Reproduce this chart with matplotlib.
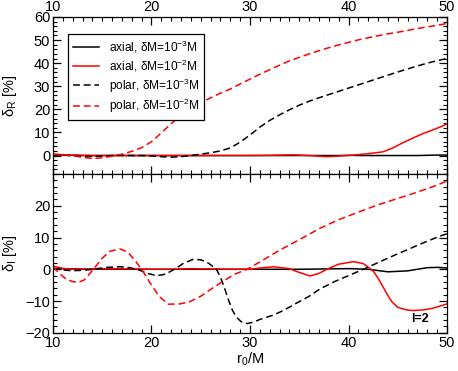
import numpy as np
import matplotlib
matplotlib.use('Agg')
import matplotlib.pyplot as plt
from matplotlib.ticker import MultipleLocator

plt.rcParams['font.family'] = ['Liberation Sans', 'DejaVu Sans']
plt.rcParams['mathtext.default'] = 'regular'

# ---- top panel: delta_R [%] ----
rt_x = list(range(10, 51))
rt_axial3 = [0.3, 0.2, 0.1, 0, 0, 0, 0, 0, 0, 0, 0, 0, 0, 0, 0, 0, 0, 0, 0, 0, 0,
             0, 0, 0, 0, 0, 0, 0, 0, 0, 0.1, 0, 0, 0, 0, 0, 0, 0, 0.1, 0.2, 0.2]
rt_polar2 = [0.6, 0.4, 0.0, -0.8, -1.3, -1.0, -0.3, 0.6, 1.8, 3.4, 6.0, 9.8, 13.8,
             17.5, 20.5, 22.8, 25.0, 27.0, 28.8, 31.0, 33.1, 35.2, 37.2, 39.1, 41.0,
             42.5, 44.0, 45.4, 46.7, 47.9, 49.0, 50.1, 51.0, 51.9, 52.7, 53.4, 54.2,
             55.0, 55.7, 56.4, 57.2]
rt_polar3 = [0.3, 0.2, -0.2, -0.4, -0.4, -0.2, 0.0, 0.1, 0.0, 0.0, -0.2, -0.5, -0.7,
             -0.5, 0.0, 0.6, 1.2, 2.0, 3.3, 5.8, 8.9, 12.3, 15.2, 17.6, 19.8, 21.8,
             23.5, 25.0, 26.4, 27.8, 29.2, 30.6, 32.0, 33.4, 34.8, 36.2, 37.5, 38.8,
             40.0, 41.1, 42.0]
ra2_x = [10, 12, 14, 16, 20, 25, 30, 32, 34.4, 36, 37.8, 40, 42, 43.5, 44.5, 45.5,
         46.5, 47.5, 48.5, 49.5, 50]
ra2_y = [0.5, 0.2, 0, 0, 0, 0, 0, 0.1, 0.3, 0, -0.5, 0, 0.8, 1.6, 3.3, 5.5, 7.5,
         9.4, 11.0, 12.7, 13.7]

# ---- bottom panel: delta_I [%] ----
ia3_x = [10, 15, 20, 25, 30, 35, 40, 42, 44, 46, 48, 49, 50]
ia3_y = [0.2, 0, 0, 0, 0, 0, 0.2, 0, -0.8, -0.5, 0.5, 0.6, 0.4]
ia2_x = [10, 11, 12, 14, 16, 18, 20, 22, 24, 26, 28, 30, 31, 32.4, 34, 35, 36.1, 37,
         37.8, 39, 40.5, 41.5, 42.5, 43, 43.5, 44, 44.4, 45, 45.9, 46.5, 47.6, 48.5,
         49.3, 50]
ia2_y = [1.0, 0.3, 0, 0.1, 0.2, 0.1, 0, 0, 0.2, 0.1, 0, 0, 0.4, 0.8, 0.2, -1.0, -2.1,
         -1.3, 0, 1.6, 2.4, 1.8, -0.5, -2.8, -5.5, -8.3, -10.2, -12.0, -12.8, -13.0,
         -12.8, -12.3, -11.6, -10.9]
ip3_x = [10, 11, 11.7, 12.5, 13.5, 14.5, 15.5, 16.8, 17.8, 18.8, 19.6, 20.5, 21.2,
         21.8, 22.5, 23.2, 24.2, 25.0, 25.8, 26.6, 27.0, 27.4, 27.8, 28.2, 28.6, 29.1,
         29.7, 30.3, 31.0, 32.4, 33.5, 34.7, 36.0, 37.1, 38.5, 40.0, 41.5, 43.0, 44.5,
         46.0, 47.5, 49.0, 50.0]
ip3_y = [0.2, -0.2, -0.4, -0.4, -0.2, 0.2, 0.6, 0.8, 0.5, -0.3, -1.3, -2.0, -1.7,
         -0.9, 0.3, 1.8, 3.1, 3.0, 1.9, 0.0, -2.5, -5.8, -9.5, -12.8, -15.0, -16.5,
         -17.1, -16.7, -15.8, -14.4, -12.8, -10.7, -8.5, -6.2, -4.0, -2.0, 0.0, 2.1,
         4.2, 6.2, 8.2, 10.1, 11.2]
ip2_x = [10, 10.6, 11.3, 12, 12.6, 13.2, 14.1, 15, 15.8, 16.8, 17.6, 18.4, 19.2, 20,
         20.8, 21.7, 22.9, 23.9, 25, 26.3, 27.5, 28.5, 29.7, 31, 33, 35, 37.1, 39, 41,
         43, 45, 47, 49, 50]
ip2_y = [0.8, -1.2, -3.0, -3.9, -4.1, -3.3, 0, 3.5, 5.7, 6.4, 5.4, 2.5, -1.0, -5.0,
         -8.6, -11.0, -10.9, -10.2, -8.5, -5.7, -3.3, -1.5, 0, 2.3, 6.0, 9.3, 12.9,
         15.6, 18.0, 20.3, 22.3, 24.3, 26.5, 27.8]

labels = ['axial, δM=10$^{-3}$M', 'axial, δM=10$^{-2}$M',
          'polar, δM=10$^{-3}$M', 'polar, δM=10$^{-2}$M']

lw = 1.1
dash = (4.5, 2.5)


def style_axis(ax, ylo, yhi):
    ax.set_xlim(10, 50)
    ax.set_ylim(ylo, yhi)
    ax.xaxis.set_major_locator(MultipleLocator(10))
    ax.xaxis.set_minor_locator(MultipleLocator(1))
    ax.yaxis.set_major_locator(MultipleLocator(10))
    ax.yaxis.set_minor_locator(MultipleLocator(2))
    ax.tick_params(which='both', direction='in', top=True, bottom=True,
                   left=True, right=True, labelsize=10.5, pad=2)
    ax.tick_params(which='major', length=5.5, width=0.9)
    ax.tick_params(which='minor', length=3, width=0.8)
    for s in ax.spines.values():
        s.set_linewidth(0.9)


fig = plt.figure(figsize=(4.58, 3.71), dpi=100)
ax1 = fig.add_axes([0.1157, 0.531, 0.8603, 0.4232])
ax2 = fig.add_axes([0.1157, 0.103, 0.8603, 0.428])

ax1.plot(rt_x, rt_axial3, color='black', lw=lw, label=labels[0])
ax1.plot(ra2_x, ra2_y, color='red', lw=lw, label=labels[1])
ax1.plot(rt_x, rt_polar3, color='black', lw=lw, ls=(0, dash), label=labels[2])
ax1.plot(rt_x, rt_polar2, color='red', lw=lw, ls=(0, dash), label=labels[3])
style_axis(ax1, -8, 60)
ax1.set_yticks([0, 10, 20, 30, 40, 50, 60])
ax1.tick_params(labelbottom=False, labeltop=True)
ax1.set_ylabel('δ$_R$ [%]', fontsize=10.5)
ax1.yaxis.set_label_coords(-0.085, 0.5)
leg = ax1.legend(loc='upper left', bbox_to_anchor=(0.038, 0.892), borderaxespad=0,
                 fontsize=8.6, frameon=True, fancybox=False, framealpha=1,
                 edgecolor='black', handlelength=2.2, handletextpad=0.8,
                 labelspacing=0.22, borderpad=0.4)
leg.get_frame().set_linewidth(0.9)

ax2.plot(ia3_x, ia3_y, color='black', lw=lw)
ax2.plot(ia2_x, ia2_y, color='red', lw=lw)
ax2.plot(ip3_x, ip3_y, color='black', lw=lw, ls=(0, dash))
ax2.plot(ip2_x, ip2_y, color='red', lw=lw, ls=(0, dash))
style_axis(ax2, -20, 30)
ax2.set_yticks([-20, -10, 0, 10, 20])
ax2.set_ylim(-20, 30)
ax2.set_ylabel('δ$_I$ [%]', fontsize=10.5)
ax2.yaxis.set_label_coords(-0.085, 0.5)
ax2.set_xlabel('r$_0$/M', fontsize=10.5, labelpad=1)
ax2.text(46.4, -16.7, 'l=2', fontsize=9, fontweight='bold', ha='left', va='baseline')

fig.savefig('out.png', dpi=100)
